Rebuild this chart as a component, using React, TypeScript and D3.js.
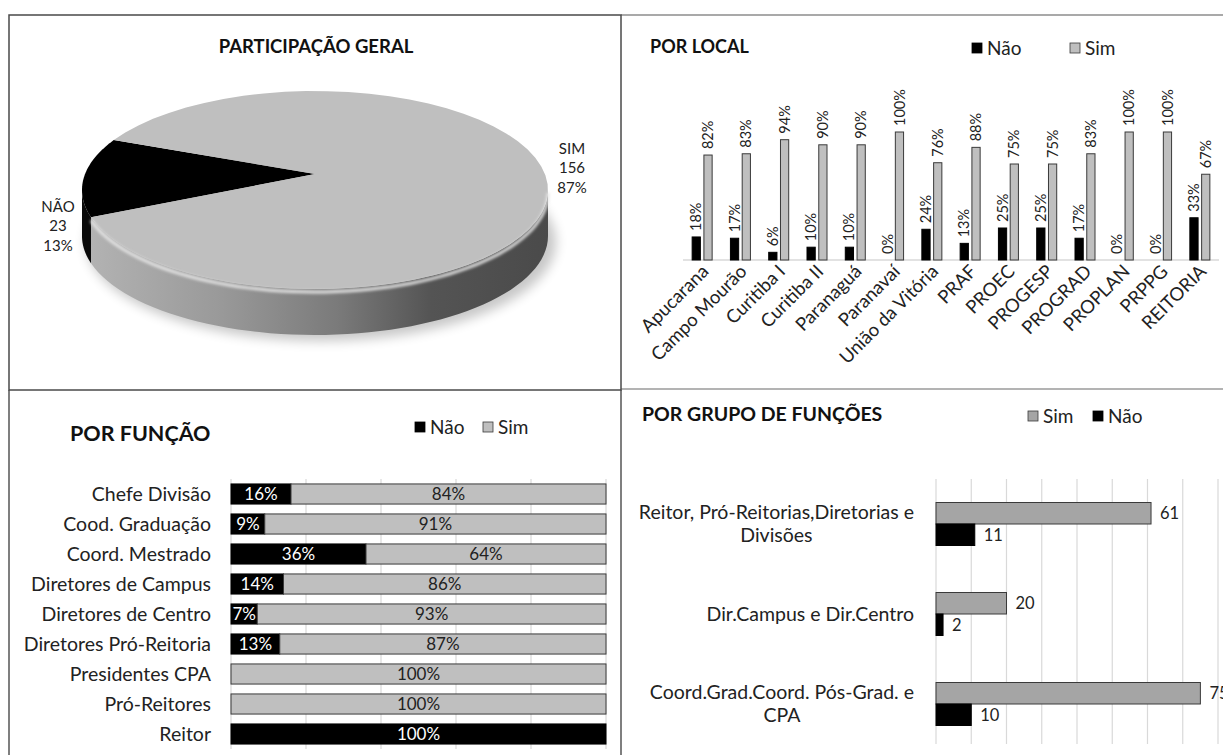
import React, { useEffect, useRef } from 'react';
import * as d3 from 'd3';

// Participação geral (pie)
const pieLabels = ['NÃO', 'SIM'];
const pieValues = [23, 156];
const piePercents = ['13%', '87%'];

// Por local (%)
const locais = [
  'Apucarana', 'Campo Mourão', 'Curitiba I', 'Curitiba II', 'Paranaguá', 'Paranavaí',
  'União da Vitória', 'PRAF', 'PROEC', 'PROGESP', 'PROGRAD', 'PROPLAN', 'PRPPG', 'REITORIA',
];
const naoLocal = [18, 17, 6, 10, 10, 0, 24, 13, 25, 25, 17, 0, 0, 33];
const simLocal = [82, 83, 94, 90, 90, 100, 76, 88, 75, 75, 83, 100, 100, 67];

// Por função (%)
const funcoes = [
  'Chefe Divisão', 'Cood. Graduação', 'Coord. Mestrado', 'Diretores de Campus',
  'Diretores de Centro', 'Diretores Pró-Reitoria', 'Presidentes CPA', 'Pró-Reitores', 'Reitor',
];
const naoFuncao = [16, 9, 36, 14, 7, 13, 0, 0, 100];
const simFuncao = [84, 91, 64, 86, 93, 87, 100, 100, 0];
const gridFuncao = [0, 20, 40, 60, 80, 100];

// Por grupo de funções (contagem)
const grupos = [
  ['Reitor, Pró-Reitorias,Diretorias e', 'Divisões'],
  ['Dir.Campus e Dir.Centro'],
  ['Coord.Grad.Coord. Pós-Grad. e', 'CPA'],
];
const simGrupo = [61, 20, 75];
const naoGrupo = [11, 2, 10];
const gridGrupo = [0, 10, 20, 30, 40, 50, 60, 70, 80];

const FONT = 'Lato, "Open Sans", sans-serif';
const TEXT = '#222';
const GRAY = '#bfbfbf';
const GRAY_DARK = '#a5a5a5';
const EDGE = '#3a3a3a';
const GRID = '#d9d9d9';

type Sel = d3.Selection<SVGSVGElement, unknown, null, undefined>;

const legend = (g: d3.Selection<SVGGElement, unknown, null, undefined>, items: { x: number; label: string; fill: string }[], y: number, size: number) => {
  items.forEach(it => {
    g.append('rect').attr('x', it.x).attr('y', y - 5).attr('width', 10).attr('height', 10)
      .attr('fill', it.fill).attr('stroke', it.fill === '#000' ? '#000' : EDGE).attr('stroke-width', 0.8);
    g.append('text').attr('x', it.x + 15).attr('y', y).attr('dy', '0.35em')
      .attr('font-size', size).attr('fill', TEXT).text(it.label);
  });
};

function drawFrame(svg: Sel) {
  const g = svg.append('g').attr('fill', 'none');
  g.append('line').attr('x1', 621).attr('x2', 1223).attr('y1', 15).attr('y2', 15).attr('stroke', '#8c8c8c').attr('stroke-width', 1.5);
  g.append('line').attr('x1', 621).attr('x2', 1223).attr('y1', 389).attr('y2', 389).attr('stroke', '#9a9a9a').attr('stroke-width', 1.5);
  g.append('line').attr('x1', 9).attr('x2', 9).attr('y1', 390).attr('y2', 755).attr('stroke', '#555').attr('stroke-width', 1.5);
  g.append('line').attr('x1', 621).attr('x2', 621).attr('y1', 390).attr('y2', 755).attr('stroke', '#555').attr('stroke-width', 1.5);
  g.append('rect').attr('x', 9).attr('y', 15).attr('width', 612).attr('height', 375)
    .attr('stroke', '#4a4a4a').attr('stroke-width', 1.5);
}

function drawPie(svg: Sel) {
  const cx = 315, cy = 190, rx = 233, ry = 99, depth = 46;
  const apexY = cy - 16; // perspective: centre of the disc sits above the ellipse centre
  const defs = svg.append('defs');
  const grad = defs.append('linearGradient').attr('id', 'sideGrad')
    .attr('gradientUnits', 'userSpaceOnUse').attr('x1', cx - rx).attr('x2', cx + rx).attr('y1', 0).attr('y2', 0);
  [[0, '#b4b4b4'], [0.3, '#999'], [0.55, '#7a7a7a'], [0.75, '#545454'], [1, '#4a4a4a']].forEach(([o, c]) =>
    grad.append('stop').attr('offset', o as number).attr('stop-color', c as string));
  defs.append('filter').attr('id', 'blur6').attr('x', '-20%').attr('y', '-50%').attr('width', '140%').attr('height', '200%')
    .append('feGaussianBlur').attr('stdDeviation', 6);
  defs.append('filter').attr('id', 'blur2').append('feGaussianBlur').attr('stdDeviation', 1.5);

  const start = (254 * Math.PI) / 180;
  const arcs = d3.pie<number>().sort(null).startAngle(start).endAngle(start + 2 * Math.PI)(pieValues);
  const pt = (a: number, dy = 0): [number, number] => {
    const t = a - Math.PI / 2;
    return [cx + rx * Math.cos(t), cy + ry * Math.sin(t) + dy];
  };
  const sample = (a0: number, a1: number, dy = 0) =>
    d3.range(0, 61).map(i => pt(a0 + ((a1 - a0) * i) / 60, dy));
  const line = d3.line();
  const g = svg.append('g');

  // shadow
  g.append('ellipse').attr('cx', cx + 6).attr('cy', cy + depth + 6).attr('rx', rx + 2).attr('ry', ry)
    .attr('fill', '#000').attr('opacity', 0.22).attr('filter', 'url(#blur6)');

  const fills = ['#000', GRAY];
  // sides (front half only)
  arcs.forEach((a, i) => {
    [0, 1].forEach(k => {
      const lo = Math.max(a.startAngle, Math.PI / 2 + 2 * Math.PI * k);
      const hi = Math.min(a.endAngle, (3 * Math.PI) / 2 + 2 * Math.PI * k);
      if (hi <= lo) return;
      const pts = [...sample(lo, hi), ...sample(lo, hi, depth).reverse()];
      g.append('path').attr('d', line(pts) + 'Z')
        .attr('fill', i === 0 ? '#0a0a0a' : 'url(#sideGrad)');
    });
  });

  // top faces
  arcs.forEach((a, i) => {
    const pts: [number, number][] = [[cx, apexY], ...sample(a.startAngle, a.endAngle)];
    g.append('path').attr('d', line(pts) + 'Z').attr('fill', fills[i]);
  });

  // bevel highlight on front edge of the grey slice
  const sim = arcs[1];
  const hlo = Math.max(sim.startAngle, Math.PI / 2 + 2 * Math.PI);
  const hhi = Math.min(sim.endAngle, (3 * Math.PI) / 2 + 2 * Math.PI);
  g.append('path').attr('d', line(sample(hlo, hhi, 3)))
    .attr('fill', 'none').attr('stroke', '#e6e6e6').attr('stroke-width', 3).attr('filter', 'url(#blur2)');

  // labels
  arcs.forEach((a, i) => {
    const mid = (a.startAngle + a.endAngle) / 2;
    const [px] = pt(mid);
    const left = px < cx;
    const lx = left ? cx - rx - 24 : cx + rx + 24;
    const ly = left ? cy + 36 : cy - 22;
    [pieLabels[i], String(pieValues[i]), piePercents[i]].forEach((s, j) => {
      g.append('text').attr('x', lx).attr('y', ly + (j - 1) * 19.5).attr('dy', '0.35em')
        .attr('text-anchor', 'middle').attr('font-size', 15).attr('fill', TEXT).text(s);
    });
  });

  g.append('text').attr('x', 316).attr('y', 47).attr('dy', '0.35em').attr('text-anchor', 'middle')
    .attr('font-size', 18.5).attr('font-weight', 700).attr('fill', '#111').text('PARTICIPAÇÃO GERAL');
}

function drawLocal(svg: Sel) {
  const base = 260;
  const x0 = d3.scaleBand().domain(locais).range([683, 1219]);
  const x1 = d3.scaleBand().domain(['Não', 'Sim']).range([0, 20]).paddingInner(0.3);
  const off = (x0.bandwidth() - 20) / 2;
  const y = d3.scaleLinear().domain([0, 100]).range([base, 132]);
  const g = svg.append('g');

  g.append('line').attr('x1', 683).attr('x2', 1219).attr('y1', base).attr('y2', base)
    .attr('stroke', GRID).attr('stroke-width', 1.5);

  const series = [
    { key: 'Não', values: naoLocal, fill: '#000' },
    { key: 'Sim', values: simLocal, fill: GRAY },
  ];
  series.forEach(s => {
    locais.forEach((c, i) => {
      const v = s.values[i];
      const bx = (x0(c) as number) + off + (x1(s.key) as number);
      if (v > 0) {
        g.append('rect').attr('x', bx).attr('y', y(v)).attr('width', x1.bandwidth()).attr('height', base - y(v))
          .attr('fill', s.fill).attr('stroke', s.fill === '#000' ? '#000' : EDGE).attr('stroke-width', 1);
      }
      const tx = bx + x1.bandwidth() / 2;
      g.append('text').attr('transform', `translate(${tx},${y(v) - 6}) rotate(-90)`).attr('dy', '0.35em')
        .attr('font-size', 14.5).attr('fill', TEXT).text(`${v}%`);
    });
  });

  locais.forEach(c => {
    const cxp = (x0(c) as number) + x0.bandwidth() / 2 + 3;
    g.append('text').attr('transform', `translate(${cxp},268) rotate(-45)`).attr('dy', '0.35em')
      .attr('text-anchor', 'end').attr('font-size', 18.5).attr('fill', TEXT).text(c);
  });

  g.append('text').attr('x', 650).attr('y', 47).attr('dy', '0.35em')
    .attr('font-size', 18).attr('font-weight', 700).attr('fill', '#111').text('POR LOCAL');
  legend(g, [{ x: 972, label: 'Não', fill: '#000' }, { x: 1070, label: 'Sim', fill: GRAY }], 48, 19);
}

function drawFuncao(svg: Sel) {
  const x = d3.scaleLinear().domain([0, 100]).range([231, 606]);
  const y = d3.scaleBand().domain(funcoes).range([479, 749]).paddingInner(0.33).paddingOuter(0.165);
  const g = svg.append('g');

  gridFuncao.forEach(t => {
    g.append('line').attr('x1', x(t)).attr('x2', x(t)).attr('y1', 479).attr('y2', 749)
      .attr('stroke', GRID).attr('stroke-width', 1.2);
  });

  funcoes.forEach((f, i) => {
    const by = y(f) as number;
    const h = y.bandwidth();
    const n = naoFuncao[i];
    const s = simFuncao[i];
    if (n > 0) {
      g.append('rect').attr('x', x(0)).attr('y', by).attr('width', x(n) - x(0)).attr('height', h)
        .attr('fill', '#000').attr('stroke', '#000');
      g.append('text').attr('x', (x(0) + x(n)) / 2).attr('y', by + h / 2).attr('dy', '0.35em')
        .attr('text-anchor', 'middle').attr('font-size', 17).attr('fill', '#fff').text(`${n}%`);
    }
    if (s > 0) {
      g.append('rect').attr('x', x(n)).attr('y', by).attr('width', x(100) - x(n)).attr('height', h)
        .attr('fill', GRAY).attr('stroke', EDGE).attr('stroke-width', 1);
      g.append('text').attr('x', (x(n) + x(100)) / 2).attr('y', by + h / 2).attr('dy', '0.35em')
        .attr('text-anchor', 'middle').attr('font-size', 17).attr('fill', TEXT).text(`${s}%`);
    }
    g.append('text').attr('x', 211).attr('y', by + h / 2).attr('dy', '0.35em')
      .attr('text-anchor', 'end').attr('font-size', 19.5).attr('fill', TEXT).text(f);
  });

  g.append('text').attr('x', 70).attr('y', 433).attr('dy', '0.35em')
    .attr('font-size', 21.5).attr('font-weight', 700).attr('fill', '#111').text('POR FUNÇÃO');
  legend(g, [{ x: 415, label: 'Não', fill: '#000' }, { x: 483, label: 'Sim', fill: GRAY }], 427, 19);
}

function drawGrupo(svg: Sel) {
  const x = d3.scaleLinear().domain([0, 80]).range([936, 1218]);
  const y0 = d3.scaleBand<number>().domain(d3.range(grupos.length)).range([479, 749]);
  const y1 = d3.scaleBand().domain(['Sim', 'Não']).range([0, 43]);
  const off = (y0.bandwidth() - 43) / 2;
  const g = svg.append('g');

  gridGrupo.forEach(t => {
    g.append('line').attr('x1', x(t)).attr('x2', x(t)).attr('y1', 479).attr('y2', 744)
      .attr('stroke', GRID).attr('stroke-width', 1.2);
  });

  grupos.forEach((lines, i) => {
    const gy = y0(i) as number;
    [
      { key: 'Sim', v: simGrupo[i], fill: GRAY_DARK },
      { key: 'Não', v: naoGrupo[i], fill: '#000' },
    ].forEach(s => {
      const by = gy + off + (y1(s.key) as number);
      g.append('rect').attr('x', x(0)).attr('y', by).attr('width', x(s.v) - x(0)).attr('height', y1.bandwidth())
        .attr('fill', s.fill).attr('stroke', s.fill === '#000' ? '#000' : EDGE).attr('stroke-width', 1);
      g.append('text').attr('x', x(s.v) + 9).attr('y', by + y1.bandwidth() / 2).attr('dy', '0.35em')
        .attr('font-size', 16.5).attr('fill', TEXT).text(s.v);
    });

    // wrapped category label: lines centred on each other, block right-aligned
    const cyp = gy + y0.bandwidth() / 2;
    const tg = g.append('g');
    const texts = lines.map((s, j) =>
      tg.append('text').attr('y', cyp + (j - (lines.length - 1) / 2) * 23).attr('dy', '0.35em')
        .attr('text-anchor', 'middle').attr('font-size', 19.5).attr('fill', TEXT).text(s));
    const maxW = d3.max(texts, t => (t.node() as SVGTextElement).getComputedTextLength()) || 0;
    texts.forEach(t => t.attr('x', 914 - maxW / 2));
  });

  g.append('text').attr('x', 642).attr('y', 414).attr('dy', '0.35em')
    .attr('font-size', 19.5).attr('font-weight', 700).attr('fill', '#111').text('POR GRUPO DE FUNÇÕES');
  legend(g, [{ x: 1028, label: 'Sim', fill: GRAY_DARK }, { x: 1093, label: 'Não', fill: '#000' }], 416, 19);
}

export default function App() {
  const svgRef = useRef<SVGSVGElement>(null);

  useEffect(() => {
    if (!svgRef.current) return;
    const svg = d3.select(svgRef.current);
    svg.selectAll('*').remove();
    drawFrame(svg);
    drawPie(svg);
    drawLocal(svg);
    drawFuncao(svg);
    drawGrupo(svg);
  }, []);

  return (
    <svg
      ref={svgRef}
      width={1223}
      height={755}
      style={{ position: 'absolute', left: 0, top: 0, background: '#fff', fontFamily: FONT }}
    />
  );
}
